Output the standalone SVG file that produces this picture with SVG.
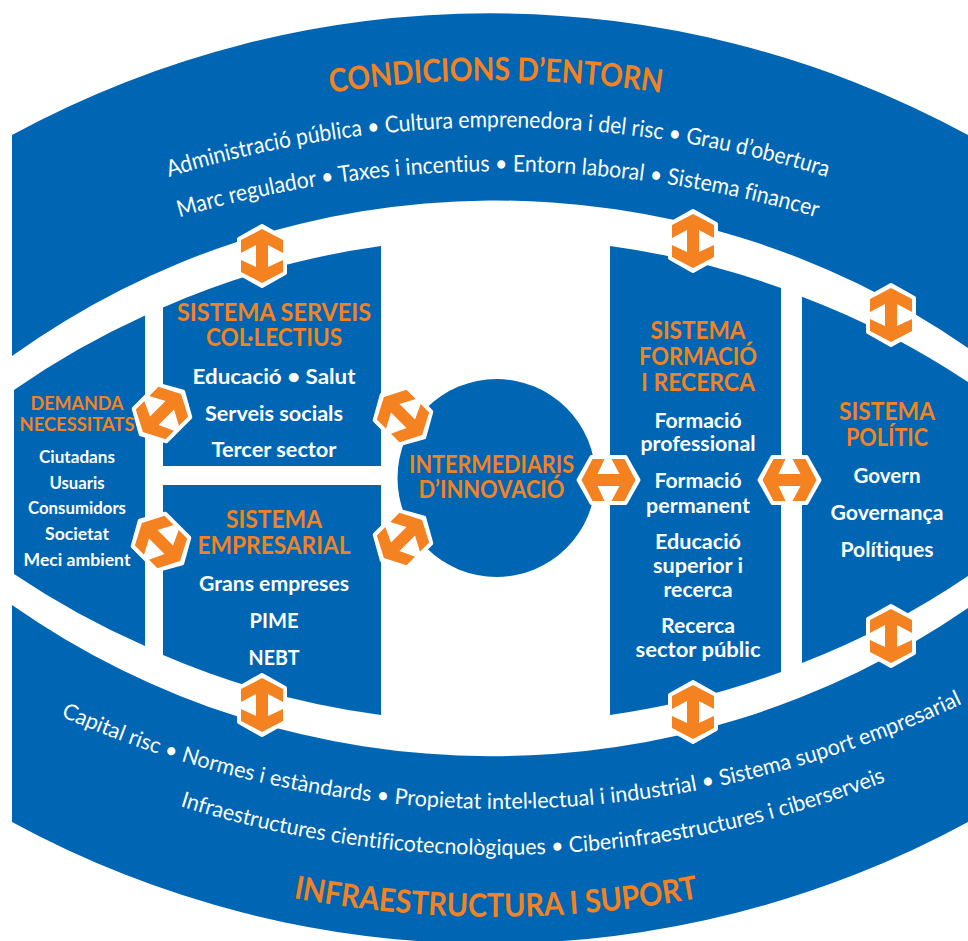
<svg xmlns="http://www.w3.org/2000/svg" width="968" height="941" viewBox="0 0 968 941">
<style>
.b{fill:#0066B3}
text{font-family:"Lato","Noto Sans","Liberation Sans",sans-serif;text-anchor:middle;font-variant-ligatures:none}
.t{fill:#F58220;font-weight:700}
.w{fill:#fff;font-weight:700}
.c{fill:#fff;font-weight:400}
.h{fill:#fff;stroke:#fff;stroke-width:4;stroke-linejoin:round}
.o{fill:#F58220}
</style>
<defs>
<g id="arrow">
<polygon class="h" points="0,-30 23,-17 23,17 0,30 -23,17 -23,-17"/>
<polygon class="o" points="0,-27 21,-16 21,-3 6,-11 6,11 21,4 21,16 0,27 -21,16 -21,4 -6,11 -6,-11 -21,-3 -21,-16"/>
</g>
<path id="pTop" d="M130,143 A1100,1100 0 0 1 862,143"/>
<path id="pL1" d="M60,217 A1114,1114 0 0 1 936,217"/>
<path id="pL2" d="M60,260 A1126,1126 0 0 1 936,260"/>
<path id="pB1" d="M20,697 A1077,1077 0 0 0 976,697"/>
<path id="pB2" d="M60,760 A1058,1058 0 0 0 936,760"/>
<path id="pB3" d="M100,843 A1100,1100 0 0 0 892,843"/>
</defs>

<g id="condicions-entorn">
<path class="b" d="M12,135 A1000,1000 0 0 1 968,135 L968,348 A830,830 0 0 0 12,356 Z"/>
<text class="t" font-size="32"><textPath href="#pTop" startOffset="50%" textLength="332" lengthAdjust="spacingAndGlyphs">CONDICIONS D’ENTORN</textPath></text>
<text class="c" font-size="23"><textPath href="#pL1" startOffset="50%" textLength="668" lengthAdjust="spacingAndGlyphs">Administració pública • Cultura emprenedora i del risc • Grau d’obertura</textPath></text>
<text class="c" font-size="23"><textPath href="#pL2" startOffset="50%" textLength="646" lengthAdjust="spacingAndGlyphs">Marc regulador • Taxes i incentius • Entorn laboral • Sistema financer</textPath></text>
</g>

<g id="infraestructura-suport">
<path class="b" d="M12,822 A1000,1000 0 0 0 968,822 L968,608 A838,838 0 0 1 12,605 Z"/>
<text class="c" font-size="22"><textPath href="#pB1" startOffset="51.5%" textLength="930" lengthAdjust="spacingAndGlyphs">Capital risc • Normes i estàndards • Propietat intel·lectual i industrial • Sistema suport empresarial</textPath></text>
<text class="c" font-size="22"><textPath href="#pB2" startOffset="54.1%" textLength="720" lengthAdjust="spacingAndGlyphs">Infraestructures cientificotecnològiques • Ciberinfraestructures i ciberserveis</textPath></text>
<text class="t" font-size="32"><textPath href="#pB3" startOffset="50%" textLength="408" lengthAdjust="spacingAndGlyphs">INFRAESTRUCTURA I SUPORT</textPath></text>
</g>

<g id="demanda">
<path class="b" d="M14,390 A830,830 0 0 1 145,315.6 L145,646 A830,830 0 0 1 14,574 Z"/>
<text class="t" font-size="19" x="77" y="410" textLength="93" lengthAdjust="spacingAndGlyphs">DEMANDA</text>
<text class="t" font-size="19" x="77" y="431" textLength="115" lengthAdjust="spacingAndGlyphs">NECESSITATS</text>
<text class="w" font-size="16.5" x="77" y="463" textLength="76" lengthAdjust="spacingAndGlyphs">Ciutadans</text>
<text class="w" font-size="16.5" x="77" y="489" textLength="55" lengthAdjust="spacingAndGlyphs">Usuaris</text>
<text class="w" font-size="16.5" x="77" y="514" textLength="98" lengthAdjust="spacingAndGlyphs">Consumidors</text>
<text class="w" font-size="16.5" x="77" y="540" textLength="64" lengthAdjust="spacingAndGlyphs">Societat</text>
<text class="w" font-size="16.5" x="77" y="566" textLength="107" lengthAdjust="spacingAndGlyphs">Meci ambient</text>
</g>

<g id="serveis-collectius">
<path class="b" d="M163,307.5 A830,830 0 0 1 381,246 L381,466 L163,466 Z"/>
<text class="t" font-size="24" x="274" y="321" textLength="194" lengthAdjust="spacingAndGlyphs">SISTEMA SERVEIS</text>
<text class="t" font-size="24" x="274" y="346" textLength="136" lengthAdjust="spacingAndGlyphs">COL·LECTIUS</text>
<text class="w" font-size="21" x="274" y="384" textLength="163" lengthAdjust="spacingAndGlyphs">Educació • Salut</text>
<text class="w" font-size="21" x="274" y="421" textLength="138" lengthAdjust="spacingAndGlyphs">Serveis socials</text>
<text class="w" font-size="21" x="274" y="457" textLength="125" lengthAdjust="spacingAndGlyphs">Tercer sector</text>
</g>

<g id="empresarial">
<path class="b" d="M163,485 L381,485 L381,715 A830,830 0 0 1 163,655 Z"/>
<text class="t" font-size="24" x="274" y="528" textLength="96" lengthAdjust="spacingAndGlyphs">SISTEMA</text>
<text class="t" font-size="24" x="274" y="554" textLength="153" lengthAdjust="spacingAndGlyphs">EMPRESARIAL</text>
<text class="w" font-size="21" x="274" y="591" textLength="150" lengthAdjust="spacingAndGlyphs">Grans empreses</text>
<text class="w" font-size="21" x="274" y="628" textLength="49" lengthAdjust="spacingAndGlyphs">PIME</text>
<text class="w" font-size="21" x="274" y="665" textLength="51" lengthAdjust="spacingAndGlyphs">NEBT</text>
</g>

<g id="intermediaris">
<circle class="b" cx="496.5" cy="478" r="99"/>
<text class="t" font-size="24" x="491.5" y="473" textLength="165" lengthAdjust="spacingAndGlyphs">INTERMEDIARIS</text>
<text class="t" font-size="24" x="491.5" y="498" textLength="146" lengthAdjust="spacingAndGlyphs">D’INNOVACIÓ</text>
</g>

<g id="formacio-recerca">
<path class="b" d="M610,246 A830,830 0 0 1 781,288 L781,672 A830,830 0 0 1 610,715 Z"/>
<text class="t" font-size="24" x="698" y="339" textLength="95" lengthAdjust="spacingAndGlyphs">SISTEMA</text>
<text class="t" font-size="24" x="698" y="365" textLength="118" lengthAdjust="spacingAndGlyphs">FORMACIÓ</text>
<text class="t" font-size="24" x="698" y="391" textLength="114" lengthAdjust="spacingAndGlyphs">I RECERCA</text>
<text class="w" font-size="20.5" x="698" y="428" textLength="87" lengthAdjust="spacingAndGlyphs">Formació</text>
<text class="w" font-size="20.5" x="698" y="451" textLength="115" lengthAdjust="spacingAndGlyphs">professional</text>
<text class="w" font-size="20.5" x="698" y="488" textLength="87" lengthAdjust="spacingAndGlyphs">Formació</text>
<text class="w" font-size="20.5" x="698" y="513" textLength="104" lengthAdjust="spacingAndGlyphs">permanent</text>
<text class="w" font-size="20.5" x="698" y="549" textLength="86" lengthAdjust="spacingAndGlyphs">Educació</text>
<text class="w" font-size="20.5" x="698" y="573" textLength="90" lengthAdjust="spacingAndGlyphs">superior i</text>
<text class="w" font-size="20.5" x="698" y="597" textLength="69" lengthAdjust="spacingAndGlyphs">recerca</text>
<text class="w" font-size="20.5" x="698" y="633" textLength="74" lengthAdjust="spacingAndGlyphs">Recerca</text>
<text class="w" font-size="20.5" x="698" y="657" textLength="125" lengthAdjust="spacingAndGlyphs">sector públic</text>
</g>

<g id="politic">
<path class="b" d="M802,296.7 A830,830 0 0 1 968,382 L968,576 A830,830 0 0 1 802,663 Z"/>
<text class="t" font-size="24" x="887" y="420" textLength="96" lengthAdjust="spacingAndGlyphs">SISTEMA</text>
<text class="t" font-size="24" x="887" y="446" textLength="82" lengthAdjust="spacingAndGlyphs">POLÍTIC</text>
<text class="w" font-size="20.5" x="887" y="483" textLength="67" lengthAdjust="spacingAndGlyphs">Govern</text>
<text class="w" font-size="20.5" x="887" y="520" textLength="113" lengthAdjust="spacingAndGlyphs">Governança</text>
<text class="w" font-size="20.5" x="887" y="557" textLength="93" lengthAdjust="spacingAndGlyphs">Polítiques</text>
</g>

<g id="connectors">
<use href="#arrow" transform="translate(262,256)"/>
<use href="#arrow" transform="translate(693,241)"/>
<use href="#arrow" transform="translate(891,315)"/>
<use href="#arrow" transform="translate(262,705)"/>
<use href="#arrow" transform="translate(693,712)"/>
<use href="#arrow" transform="translate(891,636)"/>
<use href="#arrow" transform="translate(608.5,480) rotate(90)"/>
<use href="#arrow" transform="translate(789.5,480) rotate(90)"/>
<use href="#arrow" transform="translate(162,413) rotate(45)"/>
<use href="#arrow" transform="translate(403,416) rotate(-45)"/>
<use href="#arrow" transform="translate(161,542) rotate(-45)"/>
<use href="#arrow" transform="translate(403,539) rotate(45)"/>
</g>
</svg>
